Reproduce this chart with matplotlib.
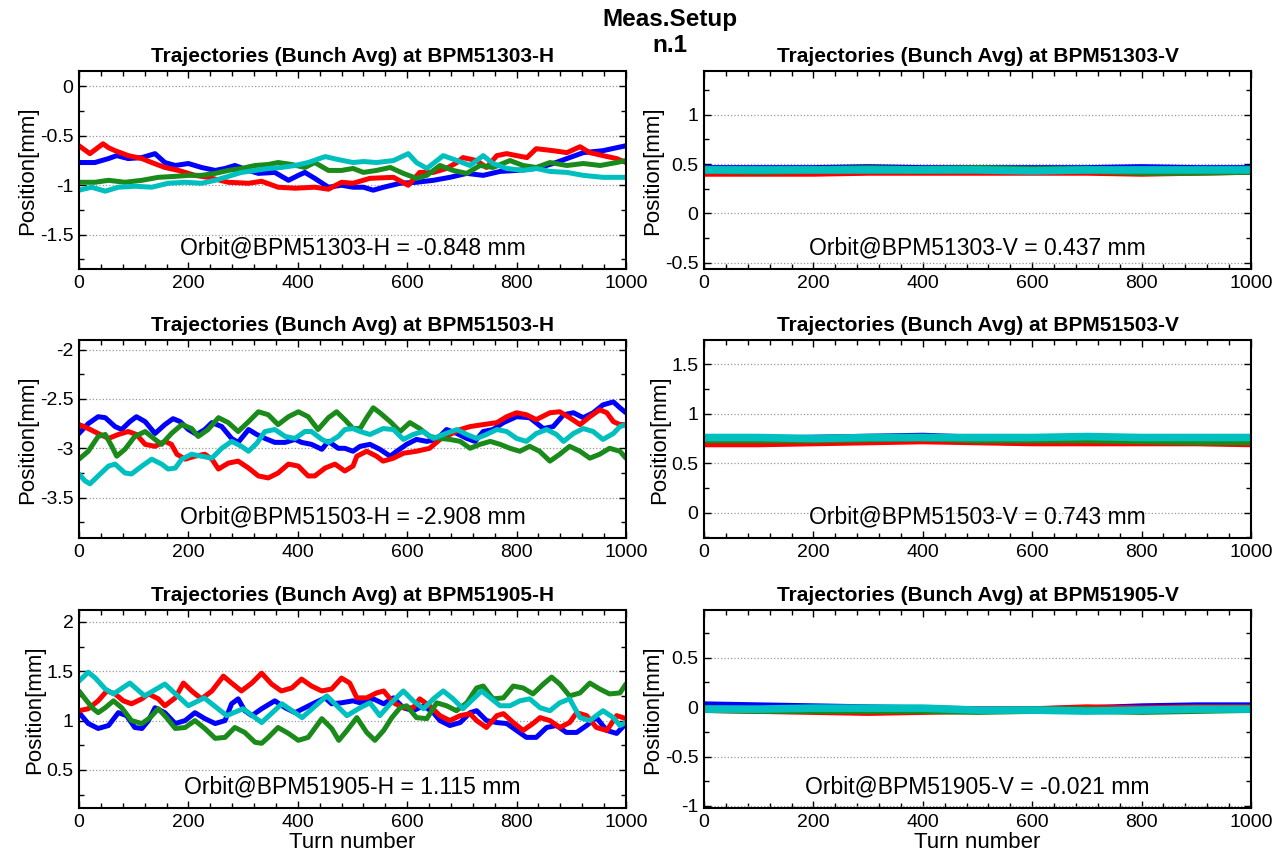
import matplotlib
matplotlib.use("Agg")
import matplotlib.pyplot as plt
from matplotlib.ticker import MultipleLocator, FormatStrFormatter

plt.rcParams['font.family'] = ['Liberation Sans', 'DejaVu Sans']
plt.rcParams['axes.unicode_minus'] = False

# (turn, position mm), one list per trace
H51303_BLUE = [(0, -0.77), (29, -0.77), (54, -0.73), (69, -0.70), (90, -0.73), (115, -0.72), (139, -0.68),
               (157, -0.77), (176, -0.80), (200, -0.78), (224, -0.82), (249, -0.85), (267, -0.83), (285, -0.80),
               (310, -0.85), (328, -0.88), (358, -0.87), (383, -0.95), (401, -0.90), (413, -0.87), (431, -0.93),
               (456, -1.02), (480, -1.00), (501, -1.02), (520, -1.02), (538, -1.05), (557, -1.02), (587, -0.98),
               (617, -0.97), (648, -0.95), (678, -0.92), (709, -0.88), (739, -0.90), (770, -0.86), (800, -0.85),
               (836, -0.83), (867, -0.78), (892, -0.73), (922, -0.67), (958, -0.65), (983, -0.62), (1000, -0.60)]
H51303_RED = [(0, -0.60), (20, -0.68), (44, -0.58), (54, -0.62), (66, -0.65), (90, -0.70), (115, -0.73),
              (133, -0.77), (157, -0.82), (182, -0.85), (212, -0.90), (236, -0.92), (273, -0.97), (310, -0.98),
              (334, -0.96), (364, -1.02), (395, -1.03), (431, -1.02), (456, -1.04), (480, -0.97), (501, -0.98),
              (532, -0.93), (575, -0.92), (602, -1.00), (623, -0.87), (648, -0.87), (672, -0.83), (691, -0.77),
              (702, -0.72), (727, -0.75), (745, -0.82), (764, -0.70), (782, -0.68), (800, -0.70), (819, -0.72),
              (836, -0.63), (867, -0.65), (892, -0.67), (916, -0.61), (934, -0.67), (958, -0.70), (983, -0.73),
              (1000, -0.77)]
H51303_GREEN = [(0, -0.97), (29, -0.97), (54, -0.95), (84, -0.97), (115, -0.95), (145, -0.92), (176, -0.91),
                (200, -0.90), (224, -0.90), (249, -0.88), (273, -0.85), (297, -0.83), (322, -0.80), (346, -0.79),
                (364, -0.77), (389, -0.79), (413, -0.82), (431, -0.77), (456, -0.85), (480, -0.85), (501, -0.83),
                (520, -0.87), (544, -0.85), (569, -0.82), (593, -0.88), (617, -0.93), (636, -0.90), (660, -0.80),
                (684, -0.85), (709, -0.88), (733, -0.80), (757, -0.82), (788, -0.75), (812, -0.80), (836, -0.82),
                (861, -0.77), (892, -0.80), (922, -0.78), (953, -0.80), (983, -0.77), (1000, -0.75)]
H51303_CYAN = [(0, -1.05), (23, -1.02), (48, -1.06), (72, -1.02), (102, -1.01), (133, -1.02), (163, -0.98),
               (194, -0.97), (224, -0.98), (249, -0.95), (273, -0.91), (297, -0.87), (322, -0.85), (346, -0.83),
               (370, -0.82), (395, -0.80), (419, -0.77), (450, -0.71), (474, -0.74), (501, -0.77), (520, -0.76),
               (544, -0.77), (575, -0.75), (602, -0.68), (617, -0.77), (636, -0.83), (666, -0.70), (691, -0.75),
               (715, -0.80), (739, -0.70), (757, -0.78), (782, -0.83), (812, -0.85), (836, -0.83), (861, -0.86),
               (892, -0.87), (922, -0.90), (958, -0.92), (1000, -0.92)]

H51503_BLUE = [(0, -2.85), (17, -2.75), (35, -2.68), (48, -2.69), (66, -2.78), (78, -2.81), (93, -2.73),
               (105, -2.68), (121, -2.73), (139, -2.85), (157, -2.76), (172, -2.70), (185, -2.73), (200, -2.81),
               (215, -2.86), (230, -2.81), (243, -2.74), (261, -2.78), (279, -2.90), (291, -2.94), (310, -2.81),
               (325, -2.86), (340, -2.90), (358, -2.94), (377, -2.94), (395, -2.91), (407, -2.94), (425, -2.96),
               (444, -3.01), (456, -2.93), (474, -3.00), (486, -3.00), (501, -3.03), (514, -2.98), (532, -2.96),
               (550, -3.01), (569, -3.08), (581, -3.03), (599, -2.96), (617, -2.91), (636, -2.93), (654, -2.91),
               (672, -2.81), (691, -2.85), (709, -2.90), (724, -2.93), (739, -2.83), (757, -2.81), (776, -2.74),
               (800, -2.68), (824, -2.69), (849, -2.80), (867, -2.78), (886, -2.66), (904, -2.64), (922, -2.69),
               (940, -2.64), (958, -2.56), (977, -2.53), (989, -2.59), (1000, -2.64)]
H51503_RED = [(0, -2.76), (17, -2.80), (35, -2.85), (54, -2.90), (72, -2.86), (90, -2.83), (105, -2.86),
              (121, -2.96), (139, -2.98), (157, -2.93), (169, -2.96), (179, -3.06), (194, -3.11), (212, -3.08),
              (230, -3.06), (243, -3.11), (255, -3.21), (273, -3.15), (291, -3.13), (310, -3.20), (328, -3.28),
              (346, -3.30), (364, -3.25), (383, -3.16), (401, -3.18), (419, -3.28), (431, -3.28), (450, -3.20),
              (468, -3.16), (486, -3.23), (501, -3.18), (508, -3.08), (526, -3.03), (544, -3.08), (556, -3.13),
              (575, -3.10), (593, -3.05), (617, -3.03), (641, -3.00), (660, -2.91), (678, -2.86), (697, -2.81),
              (715, -2.78), (739, -2.76), (764, -2.74), (782, -2.68), (800, -2.64), (818, -2.66), (836, -2.71),
              (861, -2.64), (879, -2.63), (897, -2.69), (916, -2.76), (934, -2.68), (952, -2.61), (965, -2.64),
              (977, -2.73), (989, -2.76), (1000, -2.76)]
H51503_GREEN = [(0, -3.11), (17, -3.03), (35, -2.88), (48, -2.86), (60, -2.98), (69, -3.08), (84, -3.01),
                (102, -2.88), (121, -2.83), (139, -2.91), (151, -2.96), (169, -2.85), (188, -2.76), (206, -2.80),
                (218, -2.88), (236, -2.81), (255, -2.69), (273, -2.74), (291, -2.83), (310, -2.73), (328, -2.63),
                (346, -2.66), (364, -2.76), (383, -2.68), (401, -2.63), (419, -2.68), (437, -2.81), (456, -2.69),
                (471, -2.63), (486, -2.71), (501, -2.80), (514, -2.80), (526, -2.69), (538, -2.59), (550, -2.64),
                (569, -2.73), (587, -2.83), (605, -2.74), (623, -2.80), (641, -2.88), (660, -2.90), (678, -2.91),
                (697, -2.93), (715, -3.00), (733, -2.96), (752, -2.93), (770, -2.96), (788, -3.00), (806, -3.03),
                (824, -2.98), (842, -3.03), (861, -3.13), (879, -3.06), (897, -2.98), (916, -3.03), (934, -3.10),
                (952, -3.06), (970, -3.00), (989, -3.03), (1000, -3.10)]
H51503_CYAN = [(0, -3.26), (11, -3.33), (20, -3.36), (35, -3.28), (54, -3.18), (66, -3.16), (84, -3.25),
               (96, -3.26), (115, -3.18), (133, -3.11), (151, -3.16), (163, -3.21), (176, -3.20), (188, -3.11),
               (206, -3.06), (224, -3.08), (243, -3.10), (261, -3.00), (279, -2.93), (297, -2.98), (310, -3.03),
               (325, -2.95), (340, -2.83), (358, -2.81), (377, -2.88), (395, -2.90), (413, -2.83), (425, -2.83),
               (444, -2.91), (456, -2.94), (474, -2.88), (486, -2.81), (501, -2.80), (514, -2.83), (532, -2.86),
               (556, -2.80), (575, -2.81), (593, -2.91), (611, -2.86), (629, -2.83), (648, -2.90), (666, -2.86),
               (691, -2.81), (709, -2.86), (727, -2.90), (745, -2.86), (764, -2.81), (782, -2.83), (800, -2.90),
               (818, -2.93), (836, -2.85), (855, -2.81), (873, -2.86), (886, -2.93), (904, -2.85), (922, -2.80),
               (940, -2.83), (958, -2.91), (977, -2.85), (989, -2.78), (1000, -2.76)]

H51905_BLUE = [(0, 1.08), (17, 0.97), (35, 0.92), (54, 0.95), (72, 1.08), (87, 1.05), (102, 0.93), (115, 0.92),
               (127, 1.00), (139, 1.13), (157, 1.08), (176, 0.97), (194, 1.00), (212, 1.08), (230, 1.02),
               (249, 0.97), (267, 1.00), (279, 1.17), (291, 1.22), (303, 1.10), (316, 1.05), (334, 1.12),
               (358, 1.20), (377, 1.13), (395, 1.08), (413, 1.13), (431, 1.18), (450, 1.23), (462, 1.17),
               (480, 1.18), (501, 1.20), (514, 1.18), (538, 1.22), (557, 1.17), (575, 1.23), (593, 1.13),
               (611, 1.10), (630, 1.15), (648, 1.08), (660, 1.00), (678, 0.95), (697, 0.98), (715, 1.08),
               (727, 1.10), (745, 1.00), (764, 0.98), (782, 0.97), (800, 0.90), (818, 0.83), (836, 0.83),
               (855, 0.93), (873, 0.95), (891, 0.88), (910, 0.88), (928, 0.95), (946, 1.03), (965, 0.90),
               (983, 0.87), (1000, 0.97)]
H51905_RED = [(0, 1.10), (17, 1.12), (35, 1.20), (51, 1.30), (66, 1.27), (81, 1.20), (96, 1.17), (115, 1.22),
              (127, 1.27), (145, 1.22), (157, 1.15), (176, 1.23), (191, 1.38), (206, 1.30), (224, 1.22),
              (243, 1.30), (264, 1.45), (279, 1.38), (297, 1.30), (316, 1.38), (334, 1.48), (352, 1.37),
              (370, 1.30), (389, 1.33), (407, 1.42), (425, 1.35), (444, 1.30), (462, 1.32), (480, 1.43),
              (495, 1.38), (508, 1.23), (526, 1.23), (544, 1.28), (557, 1.30), (575, 1.18), (593, 1.13),
              (611, 1.13), (623, 1.22), (641, 1.15), (660, 1.05), (678, 1.00), (697, 1.05), (715, 1.07),
              (727, 1.00), (745, 0.93), (764, 1.05), (776, 1.07), (794, 0.98), (812, 0.90), (830, 0.97),
              (843, 1.03), (861, 1.00), (879, 0.93), (897, 0.98), (910, 1.08), (928, 1.05), (946, 0.93),
              (965, 0.90), (983, 1.05), (1000, 1.02)]
H51905_GREEN = [(0, 1.30), (14, 1.20), (26, 1.12), (35, 1.08), (48, 1.13), (63, 1.20), (78, 1.13), (96, 1.00),
                (115, 0.97), (130, 1.03), (145, 1.12), (160, 1.03), (176, 0.92), (194, 0.93), (212, 1.00),
                (230, 0.92), (249, 0.82), (267, 0.83), (285, 0.93), (303, 0.88), (322, 0.78), (334, 0.77),
                (346, 0.83), (364, 0.93), (383, 0.87), (401, 0.80), (419, 0.83), (444, 1.02), (462, 0.92),
                (475, 0.80), (490, 0.90), (508, 1.03), (526, 0.88), (541, 0.80), (557, 0.90), (572, 1.03),
                (587, 1.13), (599, 1.15), (617, 1.03), (636, 1.02), (654, 1.18), (672, 1.15), (690, 1.10),
                (709, 1.18), (727, 1.33), (739, 1.35), (757, 1.22), (776, 1.23), (794, 1.35), (812, 1.33),
                (830, 1.27), (849, 1.37), (864, 1.44), (879, 1.37), (897, 1.25), (916, 1.28), (934, 1.38),
                (952, 1.32), (970, 1.27), (989, 1.28), (1000, 1.37)]
H51905_CYAN = [(0, 1.40), (17, 1.49), (30, 1.43), (48, 1.32), (63, 1.27), (93, 1.38), (120, 1.25), (157, 1.37),
               (200, 1.15), (229, 1.23), (270, 1.05), (300, 1.12), (334, 0.98), (371, 1.17), (408, 1.03),
               (453, 1.25), (490, 1.05), (514, 1.13), (532, 1.18), (550, 1.05), (569, 1.17), (593, 1.30),
               (611, 1.20), (630, 1.12), (648, 1.22), (666, 1.30), (684, 1.22), (702, 1.12), (721, 1.22),
               (736, 1.30), (752, 1.23), (770, 1.15), (788, 1.15), (806, 1.20), (824, 1.22), (843, 1.13),
               (861, 1.10), (879, 1.18), (897, 1.22), (916, 1.03), (934, 1.00), (958, 1.10), (977, 1.03),
               (989, 0.95), (1000, 0.98)]

# vertical planes: nearly flat, read every 100 turns
V_TURNS = [0, 100, 200, 300, 400, 500, 600, 700, 800, 900, 1000]
V51303_BLUE = [0.45, 0.45, 0.45, 0.46, 0.45, 0.45, 0.45, 0.45, 0.46, 0.45, 0.45]
V51303_RED = [0.41, 0.41, 0.41, 0.42, 0.42, 0.42, 0.42, 0.42, 0.41, 0.42, 0.43]
V51303_GREEN = [0.44, 0.43, 0.44, 0.45, 0.44, 0.45, 0.44, 0.44, 0.42, 0.42, 0.43]
V51303_CYAN = [0.44, 0.44, 0.44, 0.44, 0.44, 0.44, 0.43, 0.44, 0.44, 0.44, 0.44]
V51503_BLUE = [0.74, 0.74, 0.75, 0.76, 0.77, 0.75, 0.75, 0.75, 0.74, 0.73, 0.73]
V51503_RED = [0.70, 0.70, 0.71, 0.72, 0.73, 0.72, 0.71, 0.71, 0.71, 0.71, 0.70]
V51503_GREEN = [0.74, 0.74, 0.74, 0.75, 0.76, 0.74, 0.74, 0.74, 0.73, 0.72, 0.72]
V51503_CYAN = [0.76, 0.76, 0.75, 0.76, 0.76, 0.76, 0.76, 0.77, 0.76, 0.76, 0.76]
V51905_BLUE = [0.02, 0.01, 0.00, -0.01, -0.02, -0.03, -0.03, -0.02, 0.00, 0.01, 0.01]
V51905_RED = [-0.02, -0.03, -0.04, -0.05, -0.04, -0.03, -0.03, -0.01, -0.02, -0.01, -0.01]
V51905_GREEN = [-0.02, -0.03, -0.03, -0.03, -0.03, -0.04, -0.03, -0.03, -0.04, -0.03, -0.02]
V51905_CYAN = [-0.02, -0.02, -0.01, -0.01, -0.01, -0.03, -0.03, -0.04, -0.03, -0.02, -0.02]

BPM_NAMES = ['BPM51303-H', 'BPM51303-V', 'BPM51503-H', 'BPM51503-V', 'BPM51905-H', 'BPM51905-V']
ORBITS = [-0.848, 0.437, -2.908, 0.743, 1.115, -0.021]

COLORS = ['#0000ff', '#ff0000', '#1a8a1a', '#00bfbf']

h_panels = {
    'BPM51303-H': [H51303_BLUE, H51303_RED, H51303_GREEN, H51303_CYAN],
    'BPM51503-H': [H51503_BLUE, H51503_RED, H51503_GREEN, H51503_CYAN],
    'BPM51905-H': [H51905_BLUE, H51905_RED, H51905_GREEN, H51905_CYAN],
}
v_panels = {
    'BPM51303-V': [V51303_BLUE, V51303_RED, V51303_GREEN, V51303_CYAN],
    'BPM51503-V': [V51503_BLUE, V51503_RED, V51503_GREEN, V51503_CYAN],
    'BPM51905-V': [V51905_BLUE, V51905_RED, V51905_GREEN, V51905_CYAN],
}

fig = plt.figure(figsize=(12.72, 8.55), dpi=100)

col_left = [0.0621, 0.5535]
col_width = 0.430
row_bottom = [0.6854, 0.3708, 0.0550]
row_height = 0.2310

for i, (name, orbit) in enumerate(zip(BPM_NAMES, ORBITS)):
    row, col = divmod(i, 2)
    ax = fig.add_axes([col_left[col], row_bottom[row], col_width, row_height])

    if name in h_panels:
        for trace, c in zip(h_panels[name], COLORS):
            t, y = zip(*trace)
            ax.plot(t, y, color=c, lw=3.6, solid_joinstyle='round', solid_capstyle='round')
    else:
        for vals, c in zip(v_panels[name], COLORS):
            ax.plot(V_TURNS, vals, color=c, lw=5.5, solid_capstyle='butt')

    ax.set_xlim(0, 1000)
    ax.set_ylim(orbit - 1, orbit + 1)
    ax.xaxis.set_major_locator(MultipleLocator(200))
    ax.xaxis.set_minor_locator(MultipleLocator(40))
    ax.yaxis.set_major_locator(MultipleLocator(0.5))
    ax.yaxis.set_minor_locator(MultipleLocator(0.25))
    ax.yaxis.set_major_formatter(FormatStrFormatter('%g'))
    ax.tick_params(which='both', direction='in', top=True, right=True, labelsize=14, width=1.0)
    ax.tick_params(which='major', length=5, pad=4)
    ax.tick_params(which='minor', length=3.5)
    ax.grid(axis='y', which='major', linestyle=':', color='#999999', linewidth=0.9)
    for sp in ax.spines.values():
        sp.set_linewidth(1.5)

    ax.set_title(f'Trajectories (Bunch Avg) at {name}', fontsize=15, fontweight='bold', pad=7)
    ax.set_ylabel('Position[mm]', fontsize=16, labelpad=1)
    if row == 2:
        ax.set_xlabel('Turn number', fontsize=16, labelpad=1)
    ax.text(0.5, 0.105, f'Orbit@{name} = {orbit:.3f} mm', transform=ax.transAxes,
            ha='center', va='center', fontsize=16.5)

fig.text(0.527, 0.991, 'Meas.Setup\nn.1', ha='center', va='top', fontsize=17.5,
         fontweight='bold', linespacing=1.2)

fig.savefig('out.png', dpi=100)
